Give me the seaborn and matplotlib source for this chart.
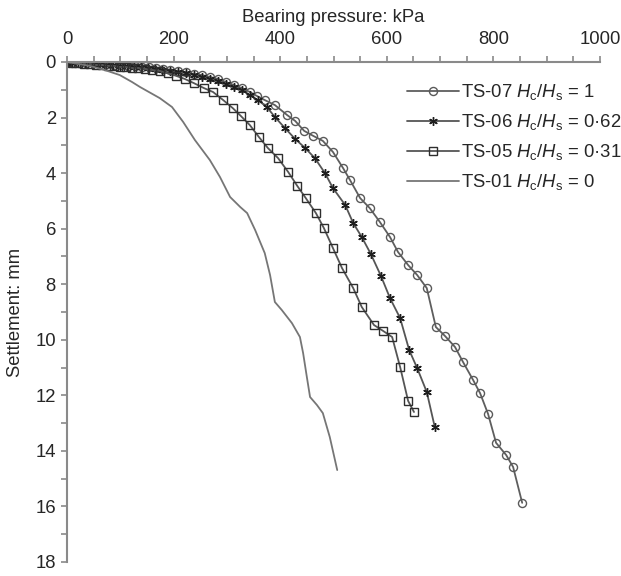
import numpy as np
import pandas as pd
import matplotlib
matplotlib.use("Agg")
import matplotlib.pyplot as plt
import seaborn as sns

# Bearing pressure (kPa) and settlement (mm) for each test
ts07_p = [0, 9, 23, 36, 49, 62, 75, 88, 101, 114, 128, 141, 154, 167, 180, 193, 208,
          223, 238, 253, 268, 283, 298, 313, 328, 343, 356, 371, 390, 413, 428, 445,
          462, 480, 499, 518, 531, 550, 568, 587, 606, 621, 640, 657, 675, 692, 709,
          728, 743, 762, 775, 790, 805, 824, 837, 854]
ts07_s = [0, 0.02, 0.04, 0.04, 0.05, 0.07, 0.07, 0.11, 0.11, 0.14, 0.14, 0.18, 0.18,
          0.22, 0.25, 0.29, 0.32, 0.36, 0.43, 0.47, 0.54, 0.61, 0.72, 0.83, 0.94, 1.08,
          1.22, 1.37, 1.55, 1.91, 2.12, 2.48, 2.66, 2.84, 3.24, 3.82, 4.25, 4.90, 5.26,
          5.76, 6.30, 6.84, 7.31, 7.67, 8.14, 9.54, 9.86, 10.26, 10.80, 11.45, 11.92,
          12.67, 13.71, 14.15, 14.58, 15.87]

ts06_p = [0, 9, 21, 34, 47, 60, 73, 86, 99, 113, 126, 139, 152, 165, 178, 193, 208,
          223, 238, 253, 268, 283, 298, 313, 328, 343, 358, 375, 390, 409, 428, 447,
          465, 484, 499, 522, 537, 553, 570, 589, 606, 625, 642, 657, 675, 690]
ts06_s = [0, 0.02, 0.04, 0.04, 0.07, 0.07, 0.11, 0.11, 0.14, 0.14, 0.18, 0.18, 0.22,
          0.25, 0.29, 0.32, 0.36, 0.40, 0.47, 0.54, 0.61, 0.68, 0.79, 0.90, 1.01, 1.19,
          1.37, 1.62, 1.98, 2.38, 2.77, 3.10, 3.46, 4.00, 4.54, 5.15, 5.80, 6.30, 6.91,
          7.70, 8.50, 9.22, 10.37, 11.02, 11.88, 13.14]

ts05_p = [0, 9, 21, 32, 43, 54, 66, 77, 88, 99, 111, 122, 133, 146, 159, 174, 189,
          205, 221, 238, 257, 274, 293, 311, 326, 343, 360, 377, 396, 415, 432, 448,
          467, 482, 499, 516, 537, 553, 576, 593, 610, 625, 640, 651]
ts05_s = [0, 0.04, 0.04, 0.07, 0.07, 0.11, 0.11, 0.14, 0.14, 0.18, 0.18, 0.22, 0.22,
          0.25, 0.29, 0.32, 0.40, 0.50, 0.61, 0.76, 0.94, 1.08, 1.37, 1.66, 1.94, 2.27,
          2.70, 3.10, 3.46, 3.96, 4.46, 4.90, 5.44, 5.98, 6.70, 7.42, 8.14, 8.82, 9.47,
          9.68, 9.90, 10.98, 12.20, 12.60]

ts01_p = [0, 43, 71, 99, 122, 137, 174, 197, 218, 240, 268, 287, 306, 325, 338, 353,
          371, 381, 390, 403, 422, 437, 443, 450, 456, 469, 480, 493, 507]
ts01_s = [0, 0.14, 0.29, 0.47, 0.72, 0.90, 1.30, 1.62, 2.16, 2.81, 3.53, 4.14, 4.86,
          5.22, 5.44, 6.05, 6.88, 7.67, 8.64, 8.93, 9.40, 9.90, 10.48, 11.34, 12.06,
          12.35, 12.64, 13.50, 14.69]

labels = [r"TS-07 $H_\mathrm{c}/H_\mathrm{s}$ = 1",
          r"TS-06 $H_\mathrm{c}/H_\mathrm{s}$ = 0·62",
          r"TS-05 $H_\mathrm{c}/H_\mathrm{s}$ = 0·31",
          r"TS-01 $H_\mathrm{c}/H_\mathrm{s}$ = 0"]

sns.set_style("white")
plt.rcParams["font.family"] = ["Liberation Sans", "DejaVu Sans"]
plt.rcParams["mathtext.fontset"] = "custom"
plt.rcParams["mathtext.rm"] = "Liberation Sans"
plt.rcParams["mathtext.it"] = "Liberation Sans:italic"

FS = 13.3

fig = plt.figure(figsize=(6.21, 5.76), dpi=100)
ax = fig.add_axes([67 / 621, 1 - 562 / 576, 533 / 621, 500 / 576])

series = [
    (ts07_p, ts07_s, "#5e5e5e", dict(marker="o", markersize=5.8, markerfacecolor="none",
                                     markeredgecolor="#5a5a5a", markeredgewidth=1.0)),
    (ts06_p, ts06_s, "#555555", dict(marker=(6, 2, 0), markersize=6.2,
                                     markeredgecolor="#1e1e1e", markeredgewidth=1.0)),
    (ts05_p, ts05_s, "#555555", dict(marker="s", markersize=5.8, markerfacecolor="none",
                                     markeredgecolor="#2e2e2e", markeredgewidth=1.0)),
    (ts01_p, ts01_s, "#767676", dict()),
]
for (p, s, col, style), lab in zip(series, labels):
    df = pd.DataFrame({"pressure": p, "settlement": s})
    sns.lineplot(data=df, x="pressure", y="settlement", sort=False, estimator=None,
                 color=col, linewidth=1.3, label=lab, ax=ax, **style)

ax.set_xlim(0, 1000)
ax.set_ylim(18, 0)
ax.xaxis.tick_top()
ax.xaxis.set_label_position("top")
ax.set_xticks(np.arange(0, 1001, 200))
ax.set_xticks(np.arange(0, 1001, 50), minor=True)
ax.set_yticks(np.arange(0, 19, 2))
ax.set_yticks(np.arange(0, 19, 1), minor=True)

spine_col = "#8a8a8a"
for side in ["right", "bottom"]:
    ax.spines[side].set_visible(False)
for side in ["left", "top"]:
    ax.spines[side].set_color(spine_col)
    ax.spines[side].set_linewidth(1.5)

ax.tick_params(axis="x", which="both", direction="out", length=4, width=1.2,
               color=spine_col, top=True, bottom=False, labelsize=FS, pad=6,
               labeltop=True, labelbottom=False)
ax.tick_params(axis="y", which="both", direction="out", length=4, width=1.2,
               color=spine_col, left=True, labelsize=FS, pad=4)

ax.set_xlabel("Bearing pressure: kPa", fontsize=FS)
ax.xaxis.label.set_va("center")
ax.xaxis.set_label_coords(0.5, 1 + (62 - 17) / 500)
ax.set_ylabel("Settlement: mm", fontsize=FS)
ax.yaxis.label.set_va("center")
ax.yaxis.set_label_coords(-(67 - 16) / 533, 0.5)

ax.legend(loc="upper left", bbox_to_anchor=((407 - 67) / 533, 1 - (82 - 62) / 500),
          frameon=False, fontsize=FS, handlelength=2.8, handletextpad=0.1,
          borderpad=0, borderaxespad=0, labelspacing=0.55, numpoints=1)

ax.grid(False)
fig.savefig("out.png", dpi=100)
